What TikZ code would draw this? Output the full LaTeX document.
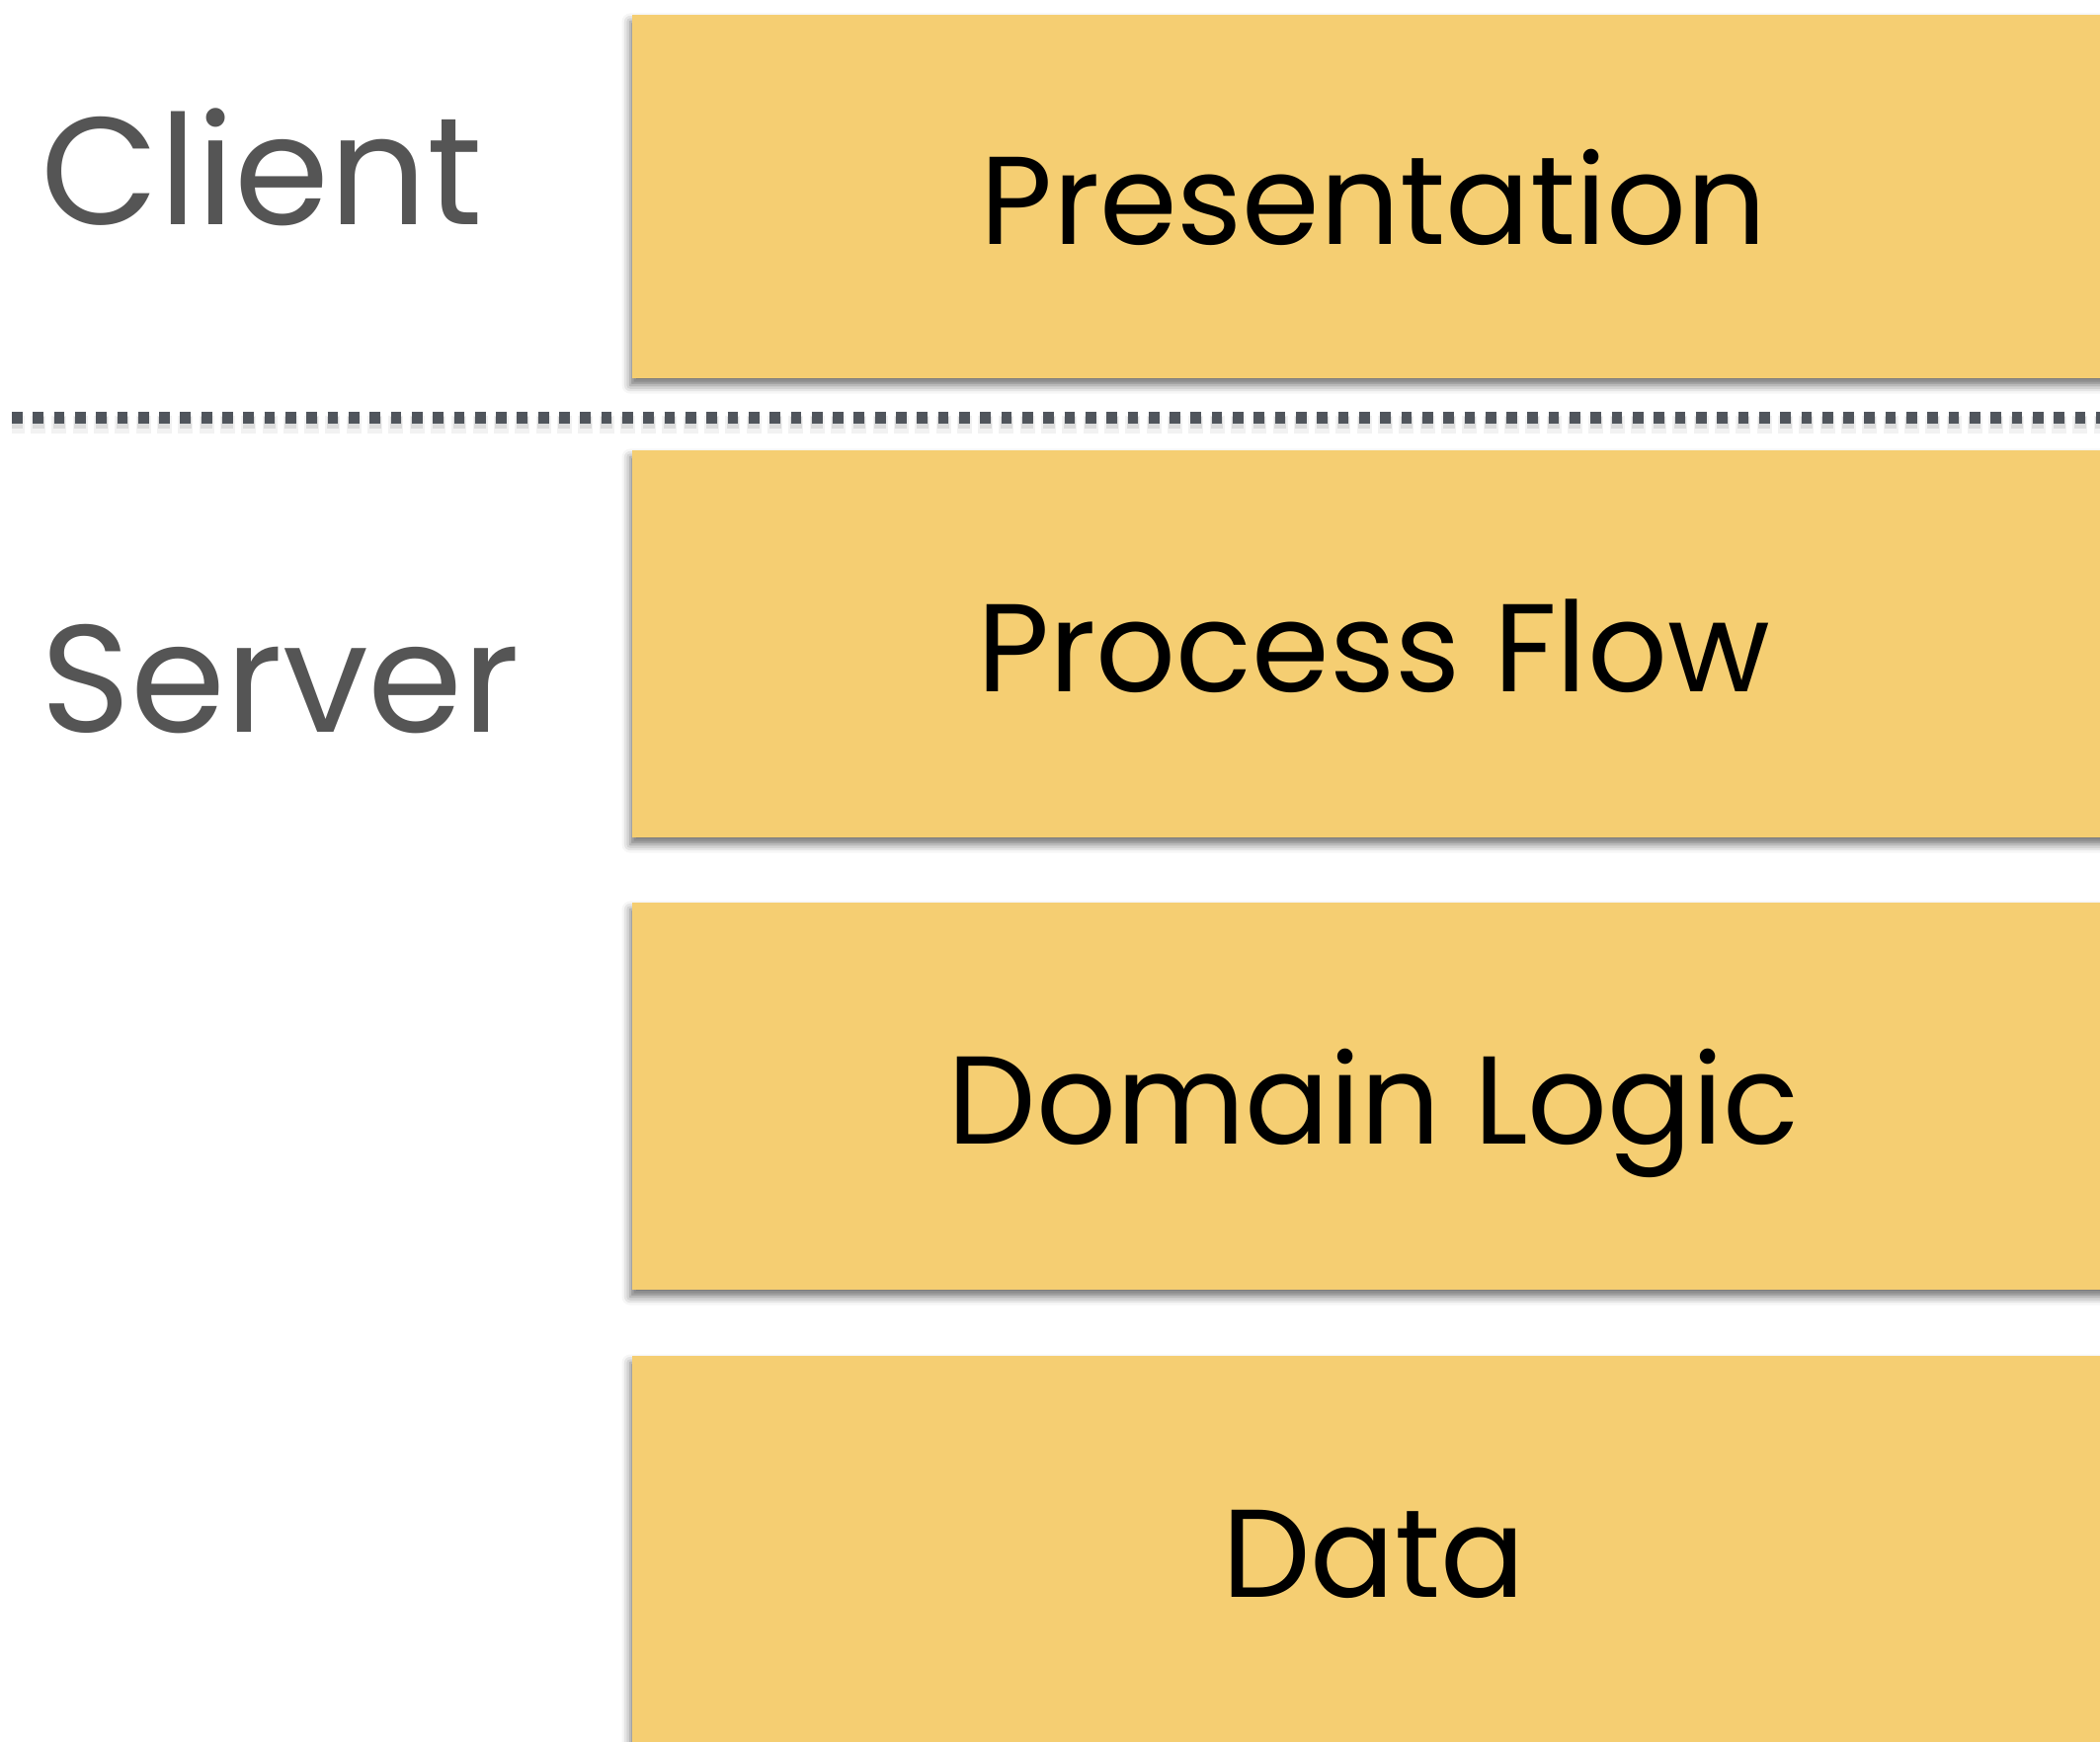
\documentclass[tikz,border=0pt]{standalone}
\usepackage{fontspec}
\setmainfont{Poppins}
\usetikzlibrary{shadows.blur}

\definecolor{layerfill}{HTML}{F5CE72}
\definecolor{sidegray}{HTML}{555555}
\definecolor{dotgray}{HTML}{50555C}

\tikzset{
  layer/.style={
    rectangle, fill=layerfill, draw=none, inner sep=0pt,
    minimum width=15.01cm, anchor=west,
    text height=0.97cm, text depth=0pt,
    font=\fontsize{36}{40}\selectfont, text=black,
    blur shadow={shadow xshift=-0.5pt, shadow yshift=-2pt,
                 shadow blur radius=2.4pt, shadow opacity=55}
  },
  sidelabel/.style={
    anchor=base west, inner sep=0pt, text=sidegray,
    font=\fontsize{44}{48}\selectfont
  },
  divider/.style={
    draw=dotgray, line width=0.112cm,
    dash pattern=on 0.107cm off 0.106cm
  }
}

\begin{document}
\begin{tikzpicture}[x=0.01cm, y=-0.01cm]
  \useasboundingbox (0,0) rectangle (2126,1764);
  \clip (0,0) rectangle (2126,1764);

  % client / server split, with a soft shade under each square
  \coordinate (divL) at (12,423);
  \coordinate (divR) at (2140,423);
  \draw[divider, draw=black, opacity=0.05, line width=0.17cm,
        dash pattern=on 0.15cm off 0.063cm, dash phase=0.022cm]
    ([yshift=-0.07cm]divL) -- ([yshift=-0.07cm]divR);
  \draw[divider, draw=black, opacity=0.09, line width=0.12cm,
        dash pattern=on 0.12cm off 0.093cm, dash phase=0.007cm]
    ([yshift=-0.05cm]divL) -- ([yshift=-0.05cm]divR);
  \draw[divider] (divL) -- (divR);

  % layers
  \node[layer, minimum height=3.68cm] (pres) at (639,199)  {Presentation};
  \node[layer, minimum height=3.92cm] (proc) at (639,652)  {Process Flow};
  \node[layer, minimum height=3.92cm] (dom)  at (639,1110) {Domain Logic};
  \node[layer, minimum height=3.92cm] (data) at (639,1569) {Data};

  % tier labels
  \node[sidelabel] (client) at (41,228) {Client};
  \node[sidelabel] (server) at (41,742) {Server};
\end{tikzpicture}
\end{document}
